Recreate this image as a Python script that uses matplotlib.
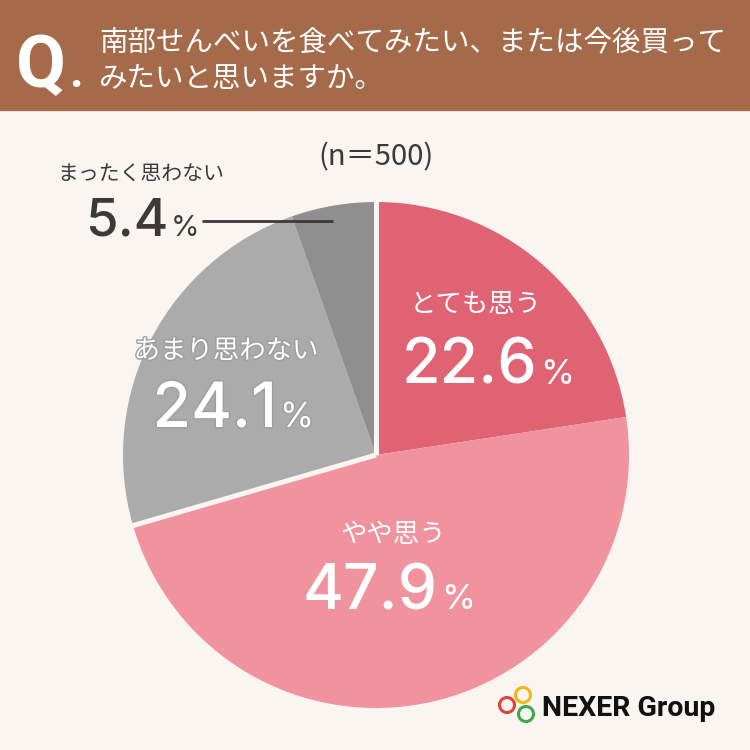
import matplotlib
matplotlib.use("Agg")
import matplotlib.pyplot as plt
from matplotlib.patches import Rectangle, Circle
import matplotlib.patheffects as pe
import numpy as np

plt.rcParams['font.family'] = ['Noto Sans CJK JP', 'DejaVu Sans']

title_lines = ["南部せんべいを食べてみたい、または今後買って", "みたいと思いますか。"]
n_label = "(n＝500)"
categories = ["とても思う", "やや思う", "あまり思わない", "まったく思わない"]
values = [22.6, 47.9, 24.1, 5.4]
colors = ["#E06373", "#F0939E", "#ABABAB", "#8F8F8F"]

BG = "#FAF5F1"
HEADER = "#A56A4A"
DARK = "#3A3A3A"

fig = plt.figure(figsize=(7.5, 7.5), dpi=100, facecolor=BG)

# pie (lower layer)
cx, cy, r = 376, 455, 253
pax = fig.add_axes([(cx - r) / 750, (750 - cy - r) / 750, 2 * r / 750, 2 * r / 750])
pax.set_zorder(1)
wedges, _ = pax.pie(values, colors=colors, startangle=90, counterclock=False, radius=1,
                    wedgeprops=dict(edgecolor='none', linewidth=0))
# background-coloured gaps: at the top, and between "やや思う" and "あまり思わない"
bounds = 90 - 360 * np.cumsum([0] + values) / sum(values)
for k in [0, 2]:
    a = np.deg2rad(bounds[k])
    pax.plot([0, 1.01 * np.cos(a)], [0, 1.01 * np.sin(a)], color=BG, lw=3.6,
             solid_capstyle='butt', zorder=5)
pax.set_xlim(-1, 1)
pax.set_ylim(-1, 1)
pax.axis('off')

# overlay
bg = fig.add_axes([0, 0, 1, 1])
bg.set_zorder(2)
bg.set_xlim(0, 750)
bg.set_ylim(750, 0)
bg.axis('off')

bg.add_patch(Rectangle((0, 0), 750, 110, color=HEADER, zorder=1))
bg.text(16, 87, "Q", color="white", fontsize=52, fontweight='bold',
        family=['Roboto', 'DejaVu Sans'], ha='left', va='baseline', zorder=2)
bg.text(69, 87, ".", color="white", fontsize=34, fontweight='bold',
        family=['Roboto', 'DejaVu Sans'], ha='left', va='baseline', zorder=2)
bg.text(99, 42, title_lines[0], color="white", fontsize=20.5, ha='left', va='center', zorder=2)
bg.text(99, 79, title_lines[1], color="white", fontsize=20.5, ha='left', va='center', zorder=2)

bg.text(376, 157, n_label, color=DARK, fontsize=21, ha='center', va='center')

numfont = ['Inter', 'DejaVu Sans']

def label(cat, val, cx_cat, y_cat, x_num_end, y_base, color, numsize=45, pctsize=25, catsize=19, stroke=None):
    t1 = bg.text(cx_cat, y_cat, cat, color=color, fontsize=catsize, ha='center', va='center', zorder=5)
    t2 = bg.text(x_num_end, y_base, f"{val}", color=color, fontsize=numsize, ha='right', va='baseline',
                 family=numfont, fontweight='medium', zorder=5)
    t3 = bg.text(x_num_end + 3, y_base, "%", color=color, fontsize=pctsize, ha='left', va='baseline',
                 family=numfont, zorder=5)
    if stroke:
        for t in (t1, t2, t3):
            t.set_path_effects([pe.withStroke(linewidth=2, foreground=stroke)])

label(categories[0], values[0], 476, 305, 537, 384, "white")
label(categories[1], values[1], 393, 534, 438, 609, "white")
label(categories[2], values[2], 226, 351, 277, 427, "white", stroke="#9E9E9E")

bg.text(141, 175, categories[3], color=DARK, fontsize=15, ha='center', va='center', zorder=5)
bg.text(168, 236, f"{values[3]}", color=DARK, fontsize=38, ha='right', va='baseline',
        family=numfont, fontweight='medium', zorder=5)
bg.text(171, 236, "%", color=DARK, fontsize=21, ha='left', va='baseline', family=numfont, zorder=5)
bg.plot([202, 333], [221, 221], color=DARK, lw=2, zorder=6, solid_capstyle='butt')

for (x, y, c) in [(523, 695, "#F2B51C"), (507, 705, "#E0443A"), (526, 714, "#3DAA4A")]:
    bg.add_patch(Circle((x, y), 7.5, fill=False, ec=c, lw=2.2, zorder=5))
bg.text(542, 716, "NEXER Group", color="#111111", fontsize=20.5, fontweight='bold',
        family=['Roboto', 'DejaVu Sans'], ha='left', va='baseline', zorder=5)

fig.savefig("out.png", dpi=100, facecolor=BG)
